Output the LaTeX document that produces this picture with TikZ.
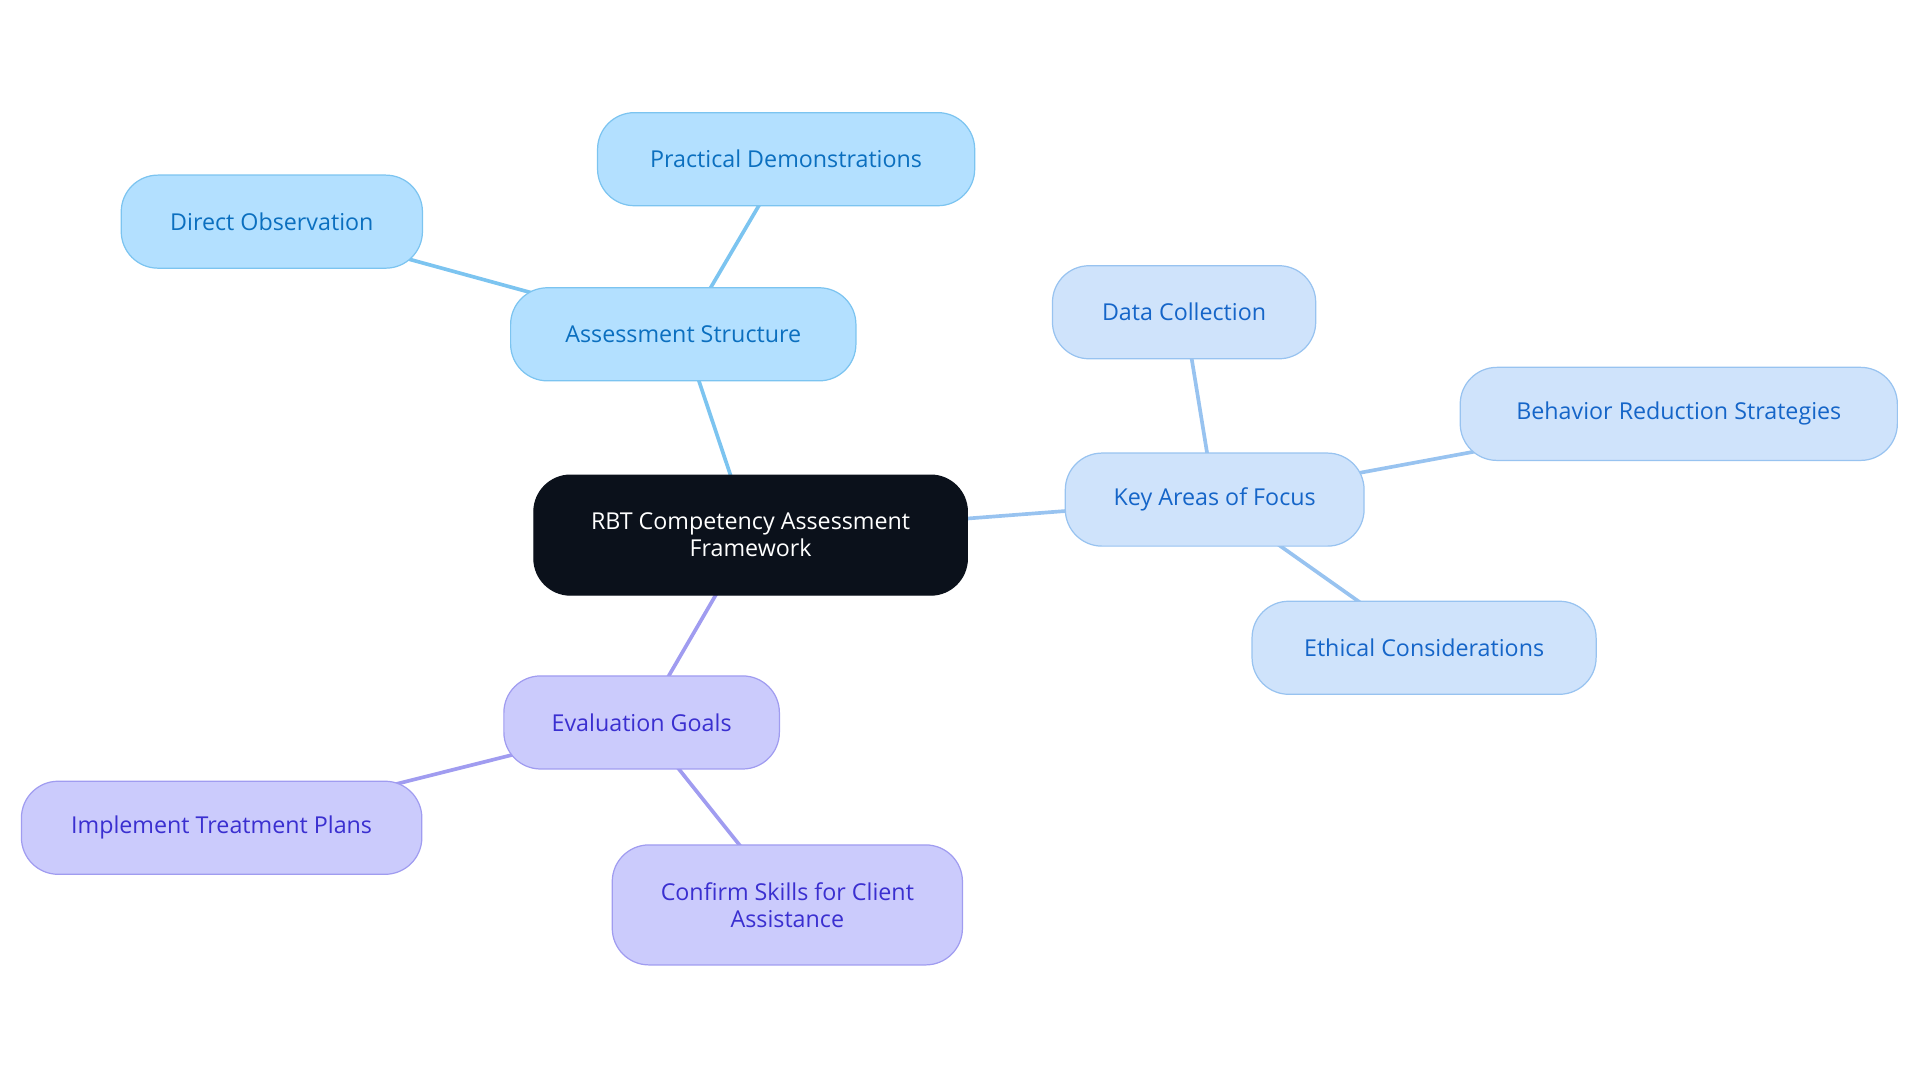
\documentclass[tikz,border=0pt]{standalone}
\usepackage{fontspec}
\setmainfont{Open Sans}
\usetikzlibrary{backgrounds}
\definecolor{rootf}{HTML}{0B111B}
\definecolor{af}{HTML}{B3E0FF}\definecolor{ad}{HTML}{7CC4F0}\definecolor{at}{HTML}{0B6FBF}
\definecolor{kf}{HTML}{CFE3FB}\definecolor{kd}{HTML}{98C3F0}\definecolor{kt}{HTML}{1565C8}
\definecolor{ef}{HTML}{CBCBFC}\definecolor{ed}{HTML}{A09CF0}\definecolor{et}{HTML}{3A2FD0}
\tikzset{
 box/.style={rounded corners=30pt,draw,line width=1pt,align=center,font=\fontsize{19}{22}\selectfont,inner sep=0pt},
 abox/.style={box,fill=af,draw=ad,text=at,minimum height=76pt},
 kbox/.style={box,fill=kf,draw=kd,text=kt,minimum height=76pt},
 ebox/.style={box,fill=ef,draw=ed,text=et,minimum height=76pt},
 al/.style={draw=ad,line width=3pt},
 kl/.style={draw=kd,line width=3pt},
 el/.style={draw=ed,line width=3pt},
}
\begin{document}
\begin{tikzpicture}[x=1pt,y=-1pt]
\useasboundingbox (0,0) rectangle (1568,884);
\node[box,fill=rootf,draw=rootf,text=white,minimum width=354pt,minimum height=98pt] (r) at (613,437) {RBT Competency Assessment\\Framework};
\node[abox,minimum width=282pt] (as) at (558,273) {Assessment Structure};
\node[abox,minimum width=308pt] (pd) at (642,130) {Practical Demonstrations};
\node[abox,minimum width=246pt] (do) at (222,181) {Direct Observation};
\node[kbox,minimum width=244pt] (ka) at (992,408) {Key Areas of Focus};
\node[kbox,minimum width=215pt] (dc) at (967,255) {Data Collection};
\node[kbox,minimum width=357pt] (br) at (1371,338) {Behavior Reduction Strategies};
\node[kbox,minimum width=281pt] (ec) at (1163,529) {Ethical Considerations};
\node[ebox,minimum width=225pt] (eg) at (524,590) {Evaluation Goals};
\node[ebox,minimum width=327pt] (it) at (181,676) {Implement Treatment Plans};
\node[ebox,minimum width=286pt,minimum height=98pt] (cs) at (643,739) {Confirm Skills for Client\\Assistance};
\begin{scope}[on background layer]
\draw[al] (r.center)--(as.center); \draw[al] (as.center)--(pd.center); \draw[al] (as.center)--(do.center);
\draw[kl] (r.center)--(ka.center); \draw[kl] (ka.center)--(dc.center); \draw[kl] (ka.center)--(br.center); \draw[kl] (ka.center)--(ec.center);
\draw[el] (r.center)--(eg.center); \draw[el] (eg.center)--(it.center); \draw[el] (eg.center)--(cs.center);
\end{scope}
\end{tikzpicture}
\end{document}
